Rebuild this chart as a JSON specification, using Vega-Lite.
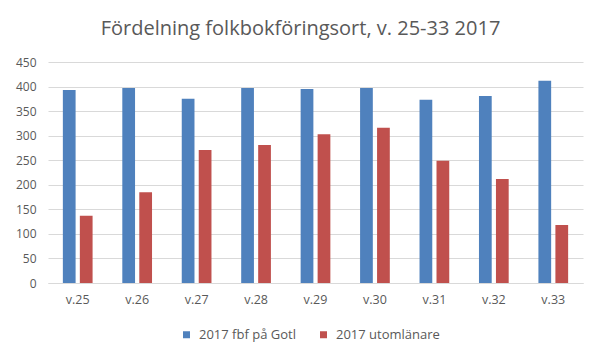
{
  "$schema": "https://vega.github.io/schema/vega-lite/v6.json",
  "width": 535,
  "height": 221,
  "autosize": {"type": "none"},
  "padding": {"left": 48, "top": 62, "right": 18, "bottom": 78},
  "background": "white",
  "title": {
    "text": "Fördelning folkbokföringsort, v. 25-33 2017",
    "font": "Open Sans",
    "fontSize": 20,
    "fontWeight": "normal",
    "color": "#595959",
    "anchor": "middle",
    "dx": -15,
    "offset": 17
  },
  "data": {
    "values": [
      {"vecka": "v.25", "serie": "2017 fbf på Gotl", "antal": 393},
      {"vecka": "v.25", "serie": "2017 utomlänare", "antal": 137},
      {"vecka": "v.26", "serie": "2017 fbf på Gotl", "antal": 397},
      {"vecka": "v.26", "serie": "2017 utomlänare", "antal": 185},
      {"vecka": "v.27", "serie": "2017 fbf på Gotl", "antal": 375},
      {"vecka": "v.27", "serie": "2017 utomlänare", "antal": 271},
      {"vecka": "v.28", "serie": "2017 fbf på Gotl", "antal": 397},
      {"vecka": "v.28", "serie": "2017 utomlänare", "antal": 281},
      {"vecka": "v.29", "serie": "2017 fbf på Gotl", "antal": 395},
      {"vecka": "v.29", "serie": "2017 utomlänare", "antal": 303},
      {"vecka": "v.30", "serie": "2017 fbf på Gotl", "antal": 397},
      {"vecka": "v.30", "serie": "2017 utomlänare", "antal": 316},
      {"vecka": "v.31", "serie": "2017 fbf på Gotl", "antal": 373},
      {"vecka": "v.31", "serie": "2017 utomlänare", "antal": 249},
      {"vecka": "v.32", "serie": "2017 fbf på Gotl", "antal": 381},
      {"vecka": "v.32", "serie": "2017 utomlänare", "antal": 212},
      {"vecka": "v.33", "serie": "2017 fbf på Gotl", "antal": 412},
      {"vecka": "v.33", "serie": "2017 utomlänare", "antal": 118}
    ]
  },
  "mark": {"type": "bar"},
  "encoding": {
    "x": {
      "field": "vecka",
      "type": "nominal",
      "scale": {"paddingInner": 0.5, "paddingOuter": 0.25},
      "axis": {
        "title": null,
        "labelAngle": 0,
        "ticks": false,
        "domainColor": "#D9D9D9",
        "labelFont": "Open Sans",
        "labelFontSize": 12.5,
        "labelColor": "#595959",
        "labelPadding": 10
      }
    },
    "xOffset": {
      "field": "serie",
      "type": "nominal",
      "scale": {"paddingInner": 0.25, "paddingOuter": 0}
    },
    "y": {
      "field": "antal",
      "type": "quantitative",
      "scale": {"domain": [0, 450]},
      "axis": {
        "title": null,
        "values": [0, 50, 100, 150, 200, 250, 300, 350, 400, 450],
        "domain": false,
        "ticks": false,
        "gridColor": "#D9D9D9",
        "labelFont": "Open Sans",
        "labelFontSize": 12,
        "labelColor": "#595959",
        "labelPadding": 12
      }
    },
    "color": {
      "field": "serie",
      "type": "nominal",
      "scale": {"domain": ["2017 fbf på Gotl", "2017 utomlänare"], "range": ["#4F81BD", "#C0504D"]},
      "legend": {
        "title": null,
        "orient": "none",
        "direction": "horizontal",
        "legendX": 132,
        "legendY": 266,
        "symbolType": "square",
        "symbolSize": 49,
        "symbolStrokeWidth": 0,
        "labelOffset": 6,
        "labelFont": "Open Sans",
        "labelFontSize": 13,
        "labelColor": "#595959",
        "columnPadding": 21
      }
    }
  },
  "config": {"view": {"stroke": null}}
}
